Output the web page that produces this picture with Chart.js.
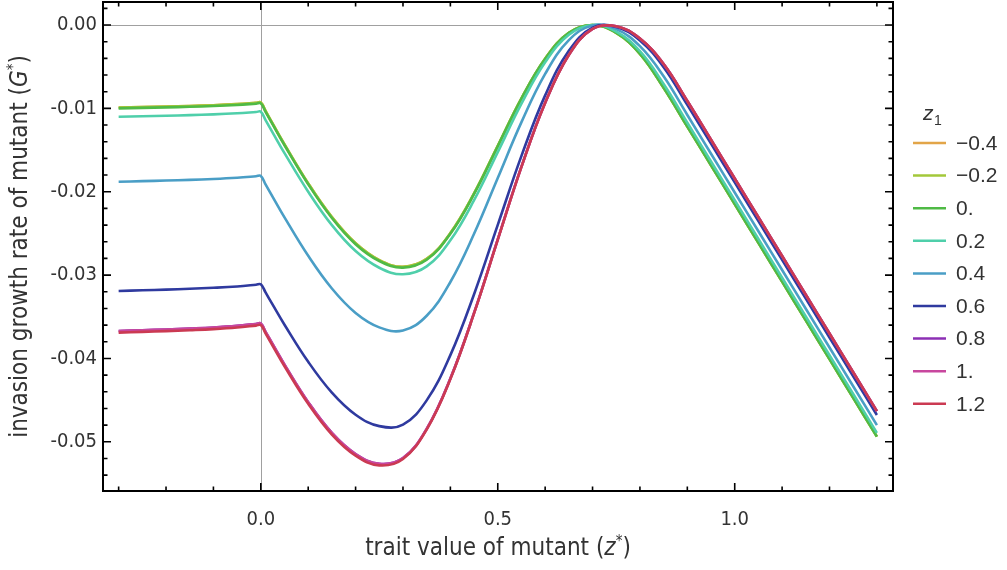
<!DOCTYPE html>
<html><head><meta charset="utf-8">
<script src="https://cdn.jsdelivr.net/npm/chart.js@4.4.0/dist/chart.umd.min.js"></script>
<style>html,body{margin:0;padding:0;background:#fff;}#wrap{width:1007px;height:570px;position:relative;}</style>
</head><body><div id="wrap"><canvas id="c" width="1007" height="570"></canvas></div>
<script>
// ---------- data ----------
const xValues = [-0.3,-0.25,-0.2,-0.15,-0.1,-0.05,-0.01,0,0.01,0.025,0.05,0.1,0.15,0.2,0.25,0.3,0.35,0.4,0.45,0.5,0.55,0.6,0.65,0.7,0.75,0.8,0.85,0.9,0.95,1.0,1.05,1.1,1.15,1.2,1.25,1.3];
const seriesLabels = ['\u22120.4','\u22120.2','0.','0.2','0.4','0.6','0.8','1.','1.2'];
const z1m04 = [-0.0099,-0.00984,-0.00978,-0.00971,-0.00962,-0.00949,-0.00934,-0.0093,-0.01031,-0.01183,-0.01432,-0.019,-0.02305,-0.02619,-0.02821,-0.029,-0.02806,-0.02496,-0.0202,-0.0145,-0.0088,-0.00404,-0.00094,0,-0.00095,-0.00346,-0.00753,-0.01218,-0.01683,-0.02148,-0.02613,-0.03078,-0.03543,-0.04008,-0.04473,-0.04938];
const z1m02 = [-0.0099,-0.00984,-0.00978,-0.00971,-0.00962,-0.00949,-0.00934,-0.0093,-0.01031,-0.01183,-0.01432,-0.019,-0.02305,-0.02619,-0.02821,-0.029,-0.02806,-0.02496,-0.0202,-0.0145,-0.0088,-0.00404,-0.00094,0,-0.00095,-0.00346,-0.00753,-0.01218,-0.01683,-0.02148,-0.02613,-0.03078,-0.03543,-0.04008,-0.04473,-0.04938];
const z1p00 = [-0.01,-0.00994,-0.00988,-0.00981,-0.00972,-0.00959,-0.00944,-0.0094,-0.01041,-0.01193,-0.01442,-0.0191,-0.02315,-0.02629,-0.02831,-0.0291,-0.02816,-0.02504,-0.02027,-0.01455,-0.00883,-0.00406,-0.00095,0,-0.00095,-0.00346,-0.00753,-0.01218,-0.01683,-0.02148,-0.02613,-0.03078,-0.03543,-0.04008,-0.04473,-0.04938];
const z1p02 = [-0.011,-0.01094,-0.01088,-0.01081,-0.01072,-0.01059,-0.01044,-0.0104,-0.0114,-0.0129,-0.01537,-0.02,-0.02401,-0.02712,-0.02912,-0.0299,-0.02895,-0.02583,-0.02102,-0.01525,-0.00943,-0.00447,-0.00118,0,-0.00079,-0.00314,-0.00707,-0.01172,-0.01637,-0.02102,-0.02567,-0.03032,-0.03497,-0.03962,-0.04427,-0.04892];
const z1p04 = [-0.0188,-0.01873,-0.01866,-0.01858,-0.01847,-0.01832,-0.01815,-0.0181,-0.01911,-0.02061,-0.02308,-0.02769,-0.03161,-0.03454,-0.03627,-0.03665,-0.03488,-0.03083,-0.02505,-0.01835,-0.01165,-0.00587,-0.00182,-0.00005,-0.0005,-0.00254,-0.00615,-0.01079,-0.01544,-0.02009,-0.02474,-0.02939,-0.03404,-0.03869,-0.04334,-0.04799];
const z1p06 = [-0.0319,-0.03182,-0.03174,-0.03164,-0.03152,-0.03136,-0.03116,-0.0311,-0.03208,-0.03355,-0.03595,-0.0404,-0.0441,-0.04675,-0.04812,-0.04793,-0.04503,-0.0396,-0.03229,-0.02398,-0.0157,-0.00844,-0.0031,-0.00031,-0.00023,-0.00186,-0.00506,-0.00958,-0.01423,-0.01888,-0.02353,-0.02818,-0.03283,-0.03748,-0.04213,-0.04678];
const z1p08 = [-0.0367,-0.03661,-0.03652,-0.03641,-0.03628,-0.03609,-0.03586,-0.0358,-0.0368,-0.03829,-0.04074,-0.04524,-0.04893,-0.05146,-0.05263,-0.05196,-0.04844,-0.0424,-0.03454,-0.02572,-0.01699,-0.00933,-0.00358,-0.00047,-0.00015,-0.00163,-0.00467,-0.00911,-0.01376,-0.01841,-0.02306,-0.02771,-0.03236,-0.03701,-0.04166,-0.04631];
const z1p10 = [-0.0367,-0.03661,-0.03652,-0.03641,-0.03628,-0.03609,-0.03586,-0.0358,-0.0368,-0.03829,-0.04074,-0.04524,-0.04893,-0.05146,-0.05263,-0.05196,-0.04844,-0.0424,-0.03454,-0.02572,-0.01699,-0.00933,-0.00358,-0.00047,-0.00015,-0.00163,-0.00467,-0.00911,-0.01376,-0.01841,-0.02306,-0.02771,-0.03236,-0.03701,-0.04166,-0.04631];
const z1p12 = [-0.0369,-0.03681,-0.03672,-0.03661,-0.03648,-0.03629,-0.03606,-0.036,-0.037,-0.03849,-0.04094,-0.04544,-0.04913,-0.05166,-0.05283,-0.05206,-0.04853,-0.04248,-0.0346,-0.02577,-0.01702,-0.00935,-0.00359,-0.00048,-0.00015,-0.00163,-0.00467,-0.00911,-0.01376,-0.01841,-0.02306,-0.02771,-0.03236,-0.03701,-0.04166,-0.04631];
const seriesValues = [z1m04, z1m02, z1p00, z1p02, z1p04, z1p06, z1p08, z1p10, z1p12];
const seriesColors = ['#E2A548','#A3C83A','#4FBA45','#4FCFAA','#4A9EC6','#2F3A9F','#8C2FB4','#C8479E','#CB3A52'];

const xTickValues = [0, 0.5, 1.0];
const xTickLabels = ['0.0', '0.5', '1.0'];
const xMinorTicks = [-0.3,-0.2,-0.1,0.1,0.2,0.3,0.4,0.6,0.7,0.8,0.9,1.1,1.2,1.3];
const yTickValues = [0, -0.01, -0.02, -0.03, -0.04, -0.05];
const yTickLabels = ['0.00', '-0.01', '-0.02', '-0.03', '-0.04', '-0.05'];
const yMinorTicks = [0.002,-0.002,-0.004,-0.006,-0.008,-0.012,-0.014,-0.016,-0.018,-0.022,-0.024,-0.026,-0.028,-0.032,-0.034,-0.036,-0.038,-0.042,-0.044,-0.046,-0.048,-0.052,-0.054];

const FONT = "'DejaVu Sans Condensed','Liberation Sans Narrow','Open Sans',sans-serif";
const LFONT = "'Liberation Sans',Arial,sans-serif";

// ---------- plugin: frame, ticks, zero axes, titles, legend ----------
const decor = {
  id: 'decor',
  beforeDatasetsDraw(chart) {
    const {ctx, chartArea: a, scales: {x, y}} = chart;
    ctx.save();
    ctx.strokeStyle = '#a0a0a0'; ctx.lineWidth = 1;
    const y0 = Math.round(y.getPixelForValue(0)) + 0.5;
    const x0 = Math.round(x.getPixelForValue(0)) + 0.5;
    ctx.beginPath();
    ctx.moveTo(a.left, y0); ctx.lineTo(a.right, y0);
    ctx.moveTo(x0, a.top); ctx.lineTo(x0, a.bottom);
    ctx.stroke();
    ctx.restore();
  },
  afterDraw(chart) {
    const {ctx, chartArea: a, scales: {x, y}} = chart;
    ctx.save();
    ctx.strokeStyle = '#000'; ctx.lineWidth = 2;
    ctx.strokeRect(a.left, a.top, a.right - a.left, a.bottom - a.top);
    ctx.lineWidth = 1.6;
    ctx.beginPath();
    const xt = (v, len) => { const p = x.getPixelForValue(v);
      ctx.moveTo(p, a.bottom); ctx.lineTo(p, a.bottom - len);
      ctx.moveTo(p, a.top); ctx.lineTo(p, a.top + len); };
    const yt = (v, len) => { const p = y.getPixelForValue(v);
      ctx.moveTo(a.left, p); ctx.lineTo(a.left + len, p);
      ctx.moveTo(a.right, p); ctx.lineTo(a.right - len, p); };
    xTickValues.forEach(v => xt(v, 8)); xMinorTicks.forEach(v => xt(v, 4.5));
    yTickValues.forEach(v => yt(v, 8)); yMinorTicks.forEach(v => yt(v, 4.5));
    ctx.stroke();

    // axis titles
    ctx.fillStyle = '#333';
    ctx.textBaseline = 'middle';
    const drawParts = (parts, cx, cy) => {
      let w = 0;
      parts.forEach(p => { ctx.font = p.f; w += ctx.measureText(p.t).width; });
      let xx = cx - w / 2;
      parts.forEach(p => { ctx.font = p.f; ctx.fillText(p.t, xx, cy + (p.dy || 0)); xx += ctx.measureText(p.t).width; });
    };
    ctx.textAlign = 'left';
    drawParts([
      {t: 'trait value of mutant (', f: '24px ' + FONT},
      {t: 'z', f: 'italic 24px ' + FONT},
      {t: '*', f: '15px ' + FONT, dy: -7},
      {t: ')', f: '24px ' + FONT}
    ], (a.left + a.right) / 2, 549);
    ctx.save();
    ctx.translate(21, (a.top + a.bottom) / 2);
    ctx.rotate(-Math.PI / 2);
    drawParts([
      {t: 'invasion growth rate of mutant (', f: '24px ' + FONT},
      {t: 'G', f: 'italic 24px ' + FONT},
      {t: '*', f: '15px ' + FONT, dy: -7},
      {t: ')', f: '24px ' + FONT}
    ], 0, 0);
    ctx.restore();

    // legend
    ctx.fillStyle = '#333';
    ctx.font = 'italic 21px ' + LFONT;
    ctx.textAlign = 'left';
    ctx.fillText('z', 923, 114);
    ctx.font = '14px ' + LFONT;
    ctx.fillText('1', 934, 121);
    chart.data.datasets.forEach((ds, i) => {
      const ly = 143 + i * 32.6;
      ctx.strokeStyle = ds.borderColor; ctx.lineWidth = 2.5;
      ctx.beginPath(); ctx.moveTo(913, ly); ctx.lineTo(946, ly); ctx.stroke();
      ctx.fillStyle = '#333';
      ctx.font = '21px ' + LFONT;
      ctx.fillText(ds.label, 956, ly + 1);
    });
    ctx.restore();
  }
};

const datasets = seriesValues.map((vals, i) => ({
  label: seriesLabels[i],
  data: xValues.map((xv, j) => ({x: xv, y: vals[j]})),
  borderColor: seriesColors[i],
  backgroundColor: seriesColors[i],
  borderWidth: 2.6,
  pointRadius: 0,
  tension: 0.4,
  fill: false,
  order: seriesValues.length - i
}));

new Chart(document.getElementById('c'), {
  type: 'line',
  data: {datasets},
  plugins: [decor],
  options: {
    responsive: false,
    animation: false,
    devicePixelRatio: 1,
    layout: {padding: {left: 0, top: 2, right: 114, bottom: 0}},
    plugins: {legend: {display: false}, tooltip: {enabled: false}},
    scales: {
      x: {
        type: 'linear', min: -0.333, max: 1.334,
        grid: {display: false, drawTicks: false}, border: {display: false},
        afterBuildTicks: s => { s.ticks = xTickValues.map(v => ({value: v})); },
        afterFit: s => { s.height = 79; s.paddingLeft = 0; s.paddingRight = 0; },
        ticks: {autoSkip: false, maxRotation: 0, padding: 17, color: '#333',
          font: {family: FONT, size: 20},
          callback: (v, i) => xTickLabels[i]}
      },
      y: {
        type: 'linear', min: -0.0559, max: 0.00276,
        grid: {display: false, drawTicks: false}, border: {display: false},
        afterBuildTicks: s => { s.ticks = yTickValues.map(v => ({value: v})); },
        afterFit: s => { s.width = 103; s.paddingTop = 0; s.paddingBottom = 0; },
        ticks: {autoSkip: false, padding: 6, color: '#333',
          font: {family: FONT, size: 20},
          callback: (v, i) => yTickLabels[i]}
      }
    }
  }
});
</script></body></html>
